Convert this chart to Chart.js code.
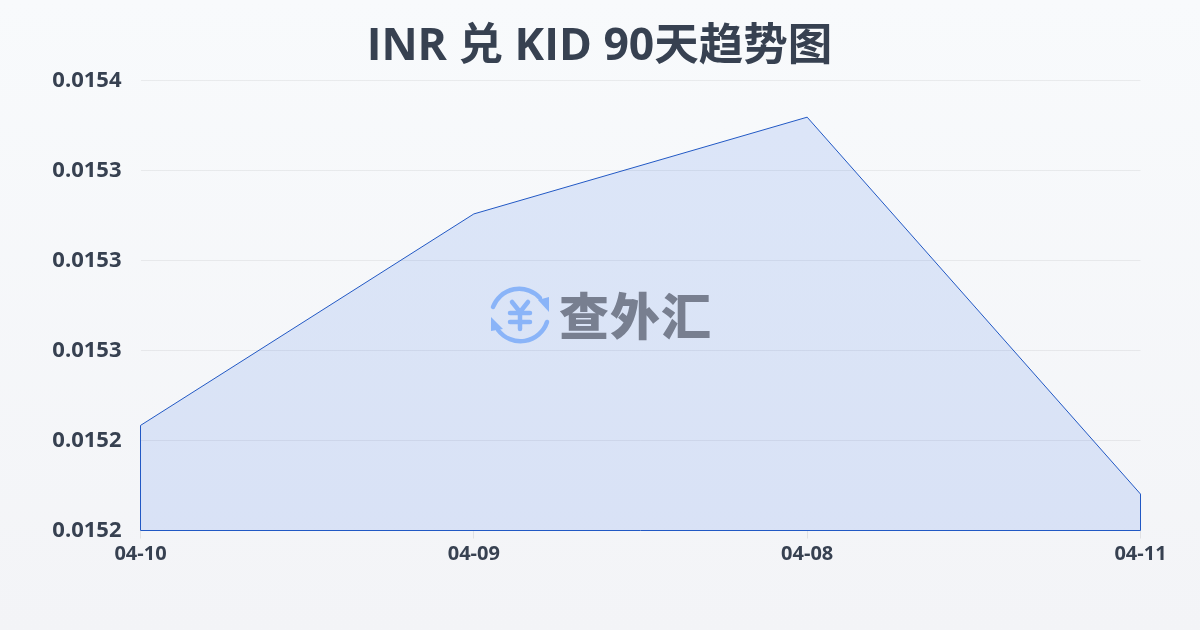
<!DOCTYPE html>
<html>
<head>
<meta charset="utf-8">
<script src="https://cdn.jsdelivr.net/npm/chart.js@4/dist/chart.umd.min.js"></script>
<style>
  html, body { margin: 0; padding: 0; }
  body { width: 1200px; height: 630px; overflow: hidden; position: relative; background: linear-gradient(180deg, #f8fafc 0%, #f3f4f7 100%); }
  #wrap { position: absolute; left: 0; top: 0; width: 1200px; height: 630px; }
  #mark { position: absolute; left: 489px; top: 285px; width: 62px; height: 60px; }
  #markText { position: absolute; left: 559px; top: 277px; font: 900 50px/72px "Noto Sans CJK SC"; color: #787f90; letter-spacing: 1px; white-space: nowrap; }
</style>
</head>
<body>
<div id="wrap"><canvas id="grafica" width="1200" height="630"></canvas></div>
<svg id="mark" viewBox="0 0 62 60" fill="none" stroke="#8ab4f8" stroke-linecap="round" stroke-linejoin="round">
  <path d="M4 22 A28 28 0 0 1 51 13" stroke-width="4.5"/>
  <path d="M58 37 A28 28 0 0 1 9 45" stroke-width="4.5"/>
  <path d="M49 15 L60 12 L60 27 Z" fill="#8ab4f8" stroke="none"/>
  <path d="M2 32 L2 46 L14 44 Z" fill="#8ab4f8" stroke="none"/>
  <path d="M23 17 L31 27 L39 17 M21 28 H41 M21 37 H41 M31 27 V44" stroke-width="4.5"/>
</svg>
<div id="markText">查外汇</div>
<script>
const categories = ['04-10', '04-09', '04-08', '04-11'];
const rateValues = [0.0152267, 0.0153207, 0.0153637, 0.0151962];
const yMin = 0.01518;
const yMax = 0.01538;
const yStep = 0.00004;

const titleText = 'INR 兑 KID 90天趋势图';
const textColor = '#374151';
const lineColor = '#2158c4';
const fontFamily = '"Open Sans", "Noto Sans CJK SC", sans-serif';

// title is centred on the whole canvas, not the chart box
const pageTitle = {
  id: 'pageTitle',
  afterDraw(chart) {
    const { ctx, width } = chart;
    ctx.save();
    ctx.fillStyle = textColor;
    ctx.font = 'bold 44.5px ' + fontFamily;
    ctx.textAlign = 'center';
    ctx.textBaseline = 'alphabetic';
    ctx.fillText(titleText, width / 2 - 0.5, 60);
    ctx.restore();
  }
};

// the outline also runs down both sides and along the bottom
const closeOutline = {
  id: 'closeOutline',
  afterDatasetsDraw(chart) {
    const { ctx, chartArea, scales } = chart;
    const xFirst = scales.x.getPixelForValue(0);
    const xLast = scales.x.getPixelForValue(categories.length - 1);
    ctx.save();
    ctx.strokeStyle = lineColor;
    ctx.lineWidth = 1;
    ctx.beginPath();
    ctx.moveTo(xFirst, scales.y.getPixelForValue(rateValues[0]));
    ctx.lineTo(xFirst, chartArea.bottom);
    ctx.lineTo(xLast, chartArea.bottom);
    ctx.lineTo(xLast, scales.y.getPixelForValue(rateValues[rateValues.length - 1]));
    ctx.stroke();
    ctx.restore();
  }
};

new Chart(document.getElementById('grafica'), {
  type: 'line',
  data: {
    labels: categories,
    datasets: [{
      data: rateValues,
      borderColor: lineColor,
      borderWidth: 1,
      backgroundColor: 'rgba(37, 99, 235, 0.13)',
      fill: 'start',
      tension: 0,
      pointRadius: 0
    }]
  },
  plugins: [closeOutline, pageTitle],
  options: {
    responsive: false,
    animation: false,
    devicePixelRatio: 1,
    layout: { padding: { left: 0, right: 59.5, top: 80.5, bottom: 0 } },
    plugins: {
      legend: { display: false },
      tooltip: { enabled: false },
      title: { display: false }
    },
    scales: {
      x: {
        afterFit(scale) { scale.height = 99.5; },
        offset: false,
        border: { display: false },
        grid: { drawOnChartArea: false, drawTicks: true, tickLength: 8, color: 'rgba(0, 0, 0, 0.08)' },
        ticks: {
          color: textColor,
          maxRotation: 0,
          padding: 4,
          font: { family: fontFamily, size: 20, weight: 'bold' }
        }
      },
      y: {
        min: yMin,
        max: yMax,
        afterFit(scale) { scale.width = 140.5; },
        border: { display: false },
        grid: { drawTicks: false, color: 'rgba(0, 0, 0, 0.06)' },
        afterBuildTicks(scale) {
          scale.ticks = [];
          for (let i = 0; i <= 5; i++) scale.ticks.push({ value: yMin + i * yStep });
        },
        ticks: {
          color: textColor,
          padding: 19,
          font: { family: fontFamily, size: 22, weight: 'bold' },
          callback: (value) => Number(value).toFixed(4)
        }
      }
    }
  }
});
</script>
</body>
</html>
